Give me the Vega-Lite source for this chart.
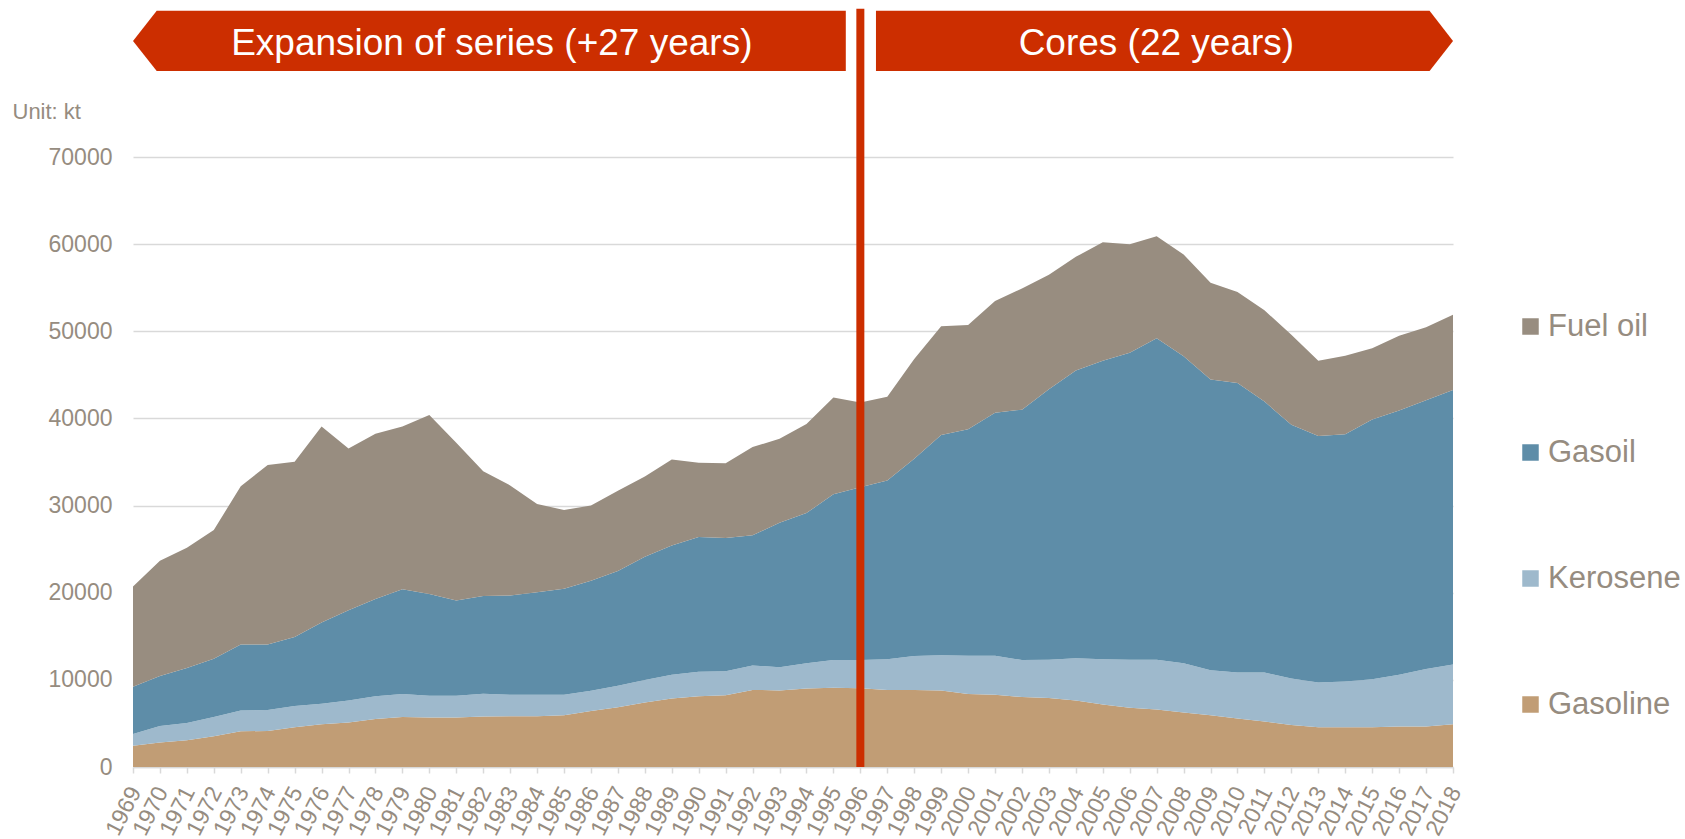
{
  "$schema": "https://vega.github.io/schema/vega-lite/v6.json",
  "width": 1320,
  "height": 610,
  "autosize": {"type": "none"},
  "padding": {"left": 133, "top": 157, "right": 232, "bottom": 72},
  "background": "white",
  "config": {"font": "Liberation Sans", "view": {"stroke": null}},
  "layer": [
    {
      "data": {"values": [
        {"year":1969,"fuel":"Gasoline","kt":2450},{"year":1969,"fuel":"Kerosene","kt":1330},{"year":1969,"fuel":"Gasoil","kt":5420},{"year":1969,"fuel":"Fuel oil","kt":11500},
        {"year":1970,"fuel":"Gasoline","kt":2810},{"year":1970,"fuel":"Kerosene","kt":1890},{"year":1970,"fuel":"Gasoil","kt":5730},{"year":1970,"fuel":"Fuel oil","kt":13240},
        {"year":1971,"fuel":"Gasoline","kt":3070},{"year":1971,"fuel":"Kerosene","kt":1990},{"year":1971,"fuel":"Gasoil","kt":6290},{"year":1971,"fuel":"Fuel oil","kt":13810},
        {"year":1972,"fuel":"Gasoline","kt":3530},{"year":1972,"fuel":"Kerosene","kt":2200},{"year":1972,"fuel":"Gasoil","kt":6690},{"year":1972,"fuel":"Fuel oil","kt":14780},
        {"year":1973,"fuel":"Gasoline","kt":4090},{"year":1973,"fuel":"Kerosene","kt":2400},{"year":1973,"fuel":"Gasoil","kt":7570},{"year":1973,"fuel":"Fuel oil","kt":18150},
        {"year":1974,"fuel":"Gasoline","kt":4140},{"year":1974,"fuel":"Kerosene","kt":2400},{"year":1974,"fuel":"Gasoil","kt":7520},{"year":1974,"fuel":"Fuel oil","kt":20610},
        {"year":1975,"fuel":"Gasoline","kt":4550},{"year":1975,"fuel":"Kerosene","kt":2450},{"year":1975,"fuel":"Gasoil","kt":7930},{"year":1975,"fuel":"Fuel oil","kt":20090},
        {"year":1976,"fuel":"Gasoline","kt":4910},{"year":1976,"fuel":"Kerosene","kt":2350},{"year":1976,"fuel":"Gasoil","kt":9310},{"year":1976,"fuel":"Fuel oil","kt":22490},
        {"year":1977,"fuel":"Gasoline","kt":5110},{"year":1977,"fuel":"Kerosene","kt":2510},{"year":1977,"fuel":"Gasoil","kt":10380},{"year":1977,"fuel":"Fuel oil","kt":18560},
        {"year":1978,"fuel":"Gasoline","kt":5520},{"year":1978,"fuel":"Kerosene","kt":2610},{"year":1978,"fuel":"Gasoil","kt":11150},{"year":1978,"fuel":"Fuel oil","kt":18970},
        {"year":1979,"fuel":"Gasoline","kt":5730},{"year":1979,"fuel":"Kerosene","kt":2660},{"year":1979,"fuel":"Gasoil","kt":12010},{"year":1979,"fuel":"Fuel oil","kt":18660},
        {"year":1980,"fuel":"Gasoline","kt":5680},{"year":1980,"fuel":"Kerosene","kt":2500},{"year":1980,"fuel":"Gasoil","kt":11660},{"year":1980,"fuel":"Fuel oil","kt":20550},
        {"year":1981,"fuel":"Gasoline","kt":5680},{"year":1981,"fuel":"Kerosene","kt":2500},{"year":1981,"fuel":"Gasoil","kt":10940},{"year":1981,"fuel":"Fuel oil","kt":18100},
        {"year":1982,"fuel":"Gasoline","kt":5800},{"year":1982,"fuel":"Kerosene","kt":2620},{"year":1982,"fuel":"Gasoil","kt":11210},{"year":1982,"fuel":"Fuel oil","kt":14320},
        {"year":1983,"fuel":"Gasoline","kt":5830},{"year":1983,"fuel":"Kerosene","kt":2450},{"year":1983,"fuel":"Gasoil","kt":11410},{"year":1983,"fuel":"Fuel oil","kt":12620},
        {"year":1984,"fuel":"Gasoline","kt":5830},{"year":1984,"fuel":"Kerosene","kt":2450},{"year":1984,"fuel":"Gasoil","kt":11760},{"year":1984,"fuel":"Fuel oil","kt":10130},
        {"year":1985,"fuel":"Gasoline","kt":5930},{"year":1985,"fuel":"Kerosene","kt":2350},{"year":1985,"fuel":"Gasoil","kt":12170},{"year":1985,"fuel":"Fuel oil","kt":9050},
        {"year":1986,"fuel":"Gasoline","kt":6440},{"year":1986,"fuel":"Kerosene","kt":2300},{"year":1986,"fuel":"Gasoil","kt":12630},{"year":1986,"fuel":"Fuel oil","kt":8640},
        {"year":1987,"fuel":"Gasoline","kt":6850},{"year":1987,"fuel":"Kerosene","kt":2460},{"year":1987,"fuel":"Gasoil","kt":13190},{"year":1987,"fuel":"Fuel oil","kt":9200},
        {"year":1988,"fuel":"Gasoline","kt":7410},{"year":1988,"fuel":"Kerosene","kt":2560},{"year":1988,"fuel":"Gasoil","kt":14160},{"year":1988,"fuel":"Fuel oil","kt":9210},
        {"year":1989,"fuel":"Gasoline","kt":7870},{"year":1989,"fuel":"Kerosene","kt":2710},{"year":1989,"fuel":"Gasoil","kt":14830},{"year":1989,"fuel":"Fuel oil","kt":9870},
        {"year":1990,"fuel":"Gasoline","kt":8130},{"year":1990,"fuel":"Kerosene","kt":2810},{"year":1990,"fuel":"Gasoil","kt":15440},{"year":1990,"fuel":"Fuel oil","kt":8540},
        {"year":1991,"fuel":"Gasoline","kt":8230},{"year":1991,"fuel":"Kerosene","kt":2760},{"year":1991,"fuel":"Gasoil","kt":15290},{"year":1991,"fuel":"Fuel oil","kt":8590},
        {"year":1992,"fuel":"Gasoline","kt":8850},{"year":1992,"fuel":"Kerosene","kt":2810},{"year":1992,"fuel":"Gasoil","kt":14930},{"year":1992,"fuel":"Fuel oil","kt":10120},
        {"year":1993,"fuel":"Gasoline","kt":8790},{"year":1993,"fuel":"Kerosene","kt":2660},{"year":1993,"fuel":"Gasoil","kt":16570},{"year":1993,"fuel":"Fuel oil","kt":9660},
        {"year":1994,"fuel":"Gasoline","kt":9000},{"year":1994,"fuel":"Kerosene","kt":2910},{"year":1994,"fuel":"Gasoil","kt":17230},{"year":1994,"fuel":"Fuel oil","kt":10230},
        {"year":1995,"fuel":"Gasoline","kt":9100},{"year":1995,"fuel":"Kerosene","kt":3170},{"year":1995,"fuel":"Gasoil","kt":19020},{"year":1995,"fuel":"Fuel oil","kt":11100},
        {"year":1996,"fuel":"Gasoline","kt":9050},{"year":1996,"fuel":"Kerosene","kt":3220},{"year":1996,"fuel":"Gasoil","kt":19840},{"year":1996,"fuel":"Fuel oil","kt":9710},
        {"year":1997,"fuel":"Gasoline","kt":8850},{"year":1997,"fuel":"Kerosene","kt":3520},{"year":1997,"fuel":"Gasoil","kt":20510},{"year":1997,"fuel":"Fuel oil","kt":9610},
        {"year":1998,"fuel":"Gasoline","kt":8850},{"year":1998,"fuel":"Kerosene","kt":3880},{"year":1998,"fuel":"Gasoil","kt":22650},{"year":1998,"fuel":"Fuel oil","kt":11450},
        {"year":1999,"fuel":"Gasoline","kt":8790},{"year":1999,"fuel":"Kerosene","kt":4040},{"year":1999,"fuel":"Gasoil","kt":25260},{"year":1999,"fuel":"Fuel oil","kt":12480},
        {"year":2000,"fuel":"Gasoline","kt":8390},{"year":2000,"fuel":"Kerosene","kt":4390},{"year":2000,"fuel":"Gasoil","kt":25980},{"year":2000,"fuel":"Fuel oil","kt":11960},
        {"year":2001,"fuel":"Gasoline","kt":8280},{"year":2001,"fuel":"Kerosene","kt":4500},{"year":2001,"fuel":"Gasoil","kt":27870},{"year":2001,"fuel":"Fuel oil","kt":12830},
        {"year":2002,"fuel":"Gasoline","kt":8030},{"year":2002,"fuel":"Kerosene","kt":4240},{"year":2002,"fuel":"Gasoil","kt":28740},{"year":2002,"fuel":"Fuel oil","kt":13900},
        {"year":2003,"fuel":"Gasoline","kt":7930},{"year":2003,"fuel":"Kerosene","kt":4390},{"year":2003,"fuel":"Gasoil","kt":31040},{"year":2003,"fuel":"Fuel oil","kt":13140},
        {"year":2004,"fuel":"Gasoline","kt":7620},{"year":2004,"fuel":"Kerosene","kt":4860},{"year":2004,"fuel":"Gasoil","kt":33030},{"year":2004,"fuel":"Fuel oil","kt":13030},
        {"year":2005,"fuel":"Gasoline","kt":7160},{"year":2005,"fuel":"Kerosene","kt":5210},{"year":2005,"fuel":"Gasoil","kt":34260},{"year":2005,"fuel":"Fuel oil","kt":13600},
        {"year":2006,"fuel":"Gasoline","kt":6800},{"year":2006,"fuel":"Kerosene","kt":5520},{"year":2006,"fuel":"Gasoil","kt":35230},{"year":2006,"fuel":"Fuel oil","kt":12430},
        {"year":2007,"fuel":"Gasoline","kt":6600},{"year":2007,"fuel":"Kerosene","kt":5720},{"year":2007,"fuel":"Gasoil","kt":36870},{"year":2007,"fuel":"Fuel oil","kt":11710},
        {"year":2008,"fuel":"Gasoline","kt":6240},{"year":2008,"fuel":"Kerosene","kt":5670},{"year":2008,"fuel":"Gasoil","kt":35230},{"year":2008,"fuel":"Fuel oil","kt":11660},
        {"year":2009,"fuel":"Gasoline","kt":5930},{"year":2009,"fuel":"Kerosene","kt":5170},{"year":2009,"fuel":"Gasoil","kt":33380},{"year":2009,"fuel":"Fuel oil","kt":11100},
        {"year":2010,"fuel":"Gasoline","kt":5570},{"year":2010,"fuel":"Kerosene","kt":5270},{"year":2010,"fuel":"Gasoil","kt":33230},{"year":2010,"fuel":"Fuel oil","kt":10430},
        {"year":2011,"fuel":"Gasoline","kt":5220},{"year":2011,"fuel":"Kerosene","kt":5620},{"year":2011,"fuel":"Gasoil","kt":31090},{"year":2011,"fuel":"Fuel oil","kt":10480},
        {"year":2012,"fuel":"Gasoline","kt":4810},{"year":2012,"fuel":"Kerosene","kt":5360},{"year":2012,"fuel":"Gasoil","kt":29100},{"year":2012,"fuel":"Fuel oil","kt":10330},
        {"year":2013,"fuel":"Gasoline","kt":4550},{"year":2013,"fuel":"Kerosene","kt":5160},{"year":2013,"fuel":"Gasoil","kt":28280},{"year":2013,"fuel":"Fuel oil","kt":8640},
        {"year":2014,"fuel":"Gasoline","kt":4550},{"year":2014,"fuel":"Kerosene","kt":5270},{"year":2014,"fuel":"Gasoil","kt":28370},{"year":2014,"fuel":"Fuel oil","kt":9000},
        {"year":2015,"fuel":"Gasoline","kt":4550},{"year":2015,"fuel":"Kerosene","kt":5520},{"year":2015,"fuel":"Gasoil","kt":29810},{"year":2015,"fuel":"Fuel oil","kt":8180},
        {"year":2016,"fuel":"Gasoline","kt":4650},{"year":2016,"fuel":"Kerosene","kt":5930},{"year":2016,"fuel":"Gasoil","kt":30320},{"year":2016,"fuel":"Fuel oil","kt":8590},
        {"year":2017,"fuel":"Gasoline","kt":4650},{"year":2017,"fuel":"Kerosene","kt":6600},{"year":2017,"fuel":"Gasoil","kt":30830},{"year":2017,"fuel":"Fuel oil","kt":8390},
        {"year":2018,"fuel":"Gasoline","kt":4910},{"year":2018,"fuel":"Kerosene","kt":6850},{"year":2018,"fuel":"Gasoil","kt":31500},{"year":2018,"fuel":"Fuel oil","kt":8640}
      ]},
      "transform": [{"calculate": "indexof(['Gasoline','Kerosene','Gasoil','Fuel oil'], datum.fuel)", "as": "ord"}],
      "mark": {"type": "area"},
      "encoding": {
        "x": {"field": "year", "type": "quantitative", "title": null,
          "scale": {"domain": [1969, 2018], "nice": false, "zero": false},
          "axis": {"values": [1969,1970,1971,1972,1973,1974,1975,1976,1977,1978,1979,1980,1981,1982,1983,1984,1985,1986,1987,1988,1989,1990,1991,1992,1993,1994,1995,1996,1997,1998,1999,2000,2001,2002,2003,2004,2005,2006,2007,2008,2009,2010,2011,2012,2013,2014,2015,2016,2017,2018],
            "tickCount": 60,
            "format": "d", "labelAngle": -63, "labelFontSize": 23, "labelColor": "#968c80",
            "labelOverlap": false, "labelFlush": false, "labelBound": false,
            "domainColor": "#d9d9d9", "domainWidth": 1.5, "tickColor": "#d9d9d9", "tickWidth": 1.5, "tickSize": 6,
            "grid": false, "labelPadding": 15, "labelOffset": 2}},
        "y": {"field": "kt", "type": "quantitative", "stack": "zero",
          "scale": {"domain": [0, 70000], "nice": false},
          "axis": {"values": [0,10000,20000,30000,40000,50000,60000,70000], "format": "d",
            "labelFontSize": 23, "labelColor": "#968c80", "domain": false, "ticks": false, "tickSize": 0,
            "labelPadding": 21, "grid": true, "gridColor": "#d9d9d9", "gridWidth": 1.5,
            "title": "Unit: kt", "titleAngle": 0, "titleAlign": "left", "titleBaseline": "alphabetic",
            "titleX": -121, "titleY": -39, "titleFontSize": 22, "titleFontWeight": "normal", "titleColor": "#968c80", "titleFont": "Liberation Sans"}},
        "color": {"field": "fuel", "type": "nominal",
          "scale": {"domain": ["Fuel oil", "Gasoil", "Kerosene", "Gasoline"], "range": ["#988d80", "#5e8da8", "#9eb9cc", "#c19d75"]},
          "legend": {"title": null, "orient": "none", "legendX": 1382, "legendY": 154,
            "symbolType": "square", "symbolSize": 272, "symbolStrokeWidth": 0, "symbolOpacity": 1,
            "labelFontSize": 31, "labelColor": "#968c80", "labelOffset": 2, "rowPadding": 94}},
        "order": {"field": "ord", "type": "quantitative", "sort": "ascending"}
      }
    },
    {
      "data": {"values": [
        {"banner": "left", "year": 1969.0, "top": 83320, "bottom": 83320},
        {"banner": "left", "year": 1969.88, "top": 86770, "bottom": 79860},
        {"banner": "left", "year": 1995.46, "top": 86770, "bottom": 79860},
        {"banner": "right", "year": 1996.58, "top": 86770, "bottom": 79860},
        {"banner": "right", "year": 2017.13, "top": 86770, "bottom": 79860},
        {"banner": "right", "year": 2018.0, "top": 83320, "bottom": 83320}
      ]},
      "mark": {"type": "area", "color": "#cc2e00"},
      "encoding": {
        "x": {"field": "year", "type": "quantitative", "title": null, "scale": {"domain": [1969, 2018], "nice": false, "zero": false}},
        "y": {"field": "top", "type": "quantitative", "scale": {"domain": [0, 70000], "nice": false}},
        "y2": {"field": "bottom"},
        "detail": {"field": "banner", "type": "nominal"}
      }
    },
    {
      "data": {"values": [{"year": 1996, "from": 0, "to": 87000}]},
      "mark": {"type": "rule", "color": "#cc2e00", "strokeWidth": 8},
      "encoding": {
        "x": {"field": "year", "type": "quantitative", "title": null, "scale": {"domain": [1969, 2018], "nice": false, "zero": false}},
        "y": {"field": "from", "type": "quantitative", "scale": {"domain": [0, 70000], "nice": false}},
        "y2": {"field": "to"}
      }
    },
    {
      "data": {"values": [
        {"year": 1982.32, "kt": 81740, "label": "Expansion of series (+27 years)"},
        {"year": 2006.99, "kt": 81740, "label": "Cores (22 years)"}
      ]},
      "mark": {"type": "text", "color": "white", "fontSize": 37, "align": "center", "baseline": "alphabetic"},
      "encoding": {
        "x": {"field": "year", "type": "quantitative", "title": null, "scale": {"domain": [1969, 2018], "nice": false, "zero": false}},
        "y": {"field": "kt", "type": "quantitative", "scale": {"domain": [0, 70000], "nice": false}},
        "text": {"field": "label"}
      }
    }
  ]
}
